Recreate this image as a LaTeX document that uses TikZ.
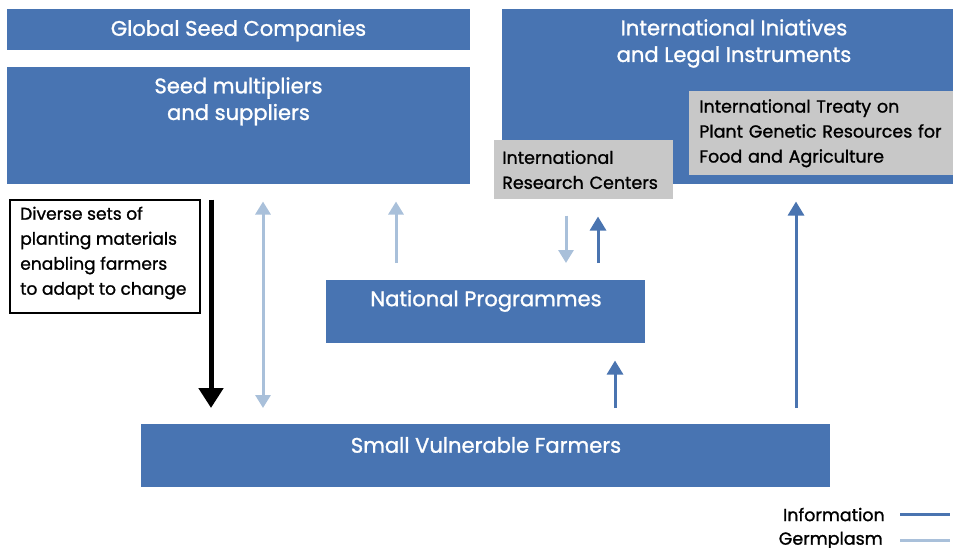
\documentclass[tikz,border=0pt]{standalone}
\usepackage{fontspec}
\setmainfont{Poppins}[FakeBold=1.2]
\usetikzlibrary{arrows.meta}
\definecolor{boxblue}{HTML}{4874B2}
\definecolor{infoblue}{HTML}{4A74B0}
\definecolor{germ}{HTML}{A9C0DA}
\definecolor{greybox}{HTML}{C8C8C8}
\def\u{0.75pt}
\tikzset{
  bluebox/.style={fill=boxblue, draw=none, text=white, inner sep=0pt, font=\fontsize{15.8}{20}\selectfont, align=center},
  greyb/.style={fill=greybox, draw=none, text=black, inner xsep=8*\u, inner ysep=0pt, font=\fontsize{13.1}{18.75}\selectfont, align=left, anchor=north west},
  notebox/.style={draw=black, line width=1.2pt, fill=white, inner sep=0pt, anchor=north west},
  notetext/.style={text=black, inner sep=0pt, font=\fontsize{12.8}{18.75}\selectfont, align=left},
  info/.style={draw=infoblue, line width=3*\u, -{Triangle[width=16*\u,length=14*\u]}},
  germarrow/.style={draw=germ, line width=3*\u, -{Triangle[width=15*\u,length=13*\u]}},
  germdouble/.style={draw=germ, line width=3*\u, {Triangle[width=15*\u,length=13*\u]}-{Triangle[width=15*\u,length=13*\u]}},
  blackarrow/.style={draw=black, line width=5*\u, -{Triangle[width=24*\u,length=20*\u]}},
  legendtxt/.style={font=\fontsize{13.1}{14}\selectfont, text=black, inner sep=0pt, anchor=east},
}
\begin{document}
\begin{tikzpicture}[x=0.75pt,y=-0.75pt]
\useasboundingbox (0,0) rectangle (953,547);
% boxes
\node[bluebox, anchor=north west, minimum width=463*\u, minimum height=41*\u] (gsc) at (7,9) {};
\node[bluebox] at (238.5,30.5) {Global Seed Companies};
\node[bluebox, anchor=north west, minimum width=463*\u, minimum height=117*\u] (smult) at (7,67) {};
\node[bluebox, anchor=north] at (238.5,77) {Seed multipliers\\and suppliers};
\node[bluebox, anchor=north west, minimum width=451*\u, minimum height=175*\u] (intl) at (502,9) {};
\node[bluebox, anchor=north] at (734,19) {International Iniatives\\and Legal Instruments};
\node[greyb, minimum width=264*\u, minimum height=84*\u, text width=246*\u, inner xsep=10*\u] (itpgr) at (689,91) {International Treaty on\\Plant Genetic Resources for\\Food and Agriculture};
\node[greyb, minimum width=179*\u, minimum height=59*\u, text width=163*\u] (irc) at (494,140) {International\\Research Centers};
\node[notebox, minimum width=190*\u, minimum height=113*\u] (note) at (9,199) {};
\node[notetext, anchor=west] (notet) at (20,253) {Diverse sets of\\planting materials\\enabling farmers\\to adapt to change};
\node[bluebox, anchor=north west, minimum width=319*\u, minimum height=63*\u] (natprog) at (326,280) {};
\node[bluebox] at (486,301) {National Programmes};
\node[bluebox, anchor=north west, minimum width=689*\u, minimum height=63*\u] (farmers) at (141,424) {};
\node[bluebox] at (486,445) {Small Vulnerable Farmers};
% arrows
\draw[blackarrow, shorten <=15*\u, shorten >=16*\u] (smult.south -| 211,0) -- (farmers.north -| 211,0);
\draw[germdouble, shorten <=17*\u, shorten >=16*\u] (smult.south -| 263,0) -- (farmers.north -| 263,0);
\draw[germarrow, shorten <=17*\u, shorten >=17*\u] (natprog.north -| 396,0) -- (smult.south -| 396,0);
\draw[germarrow, shorten <=16*\u, shorten >=17*\u] (irc.south -| 566,0) -- (natprog.north -| 566,0);
\draw[info, shorten <=17*\u, shorten >=17*\u] (natprog.north -| 598,0) -- (irc.south -| 598,0);
\draw[info, shorten <=16*\u, shorten >=17*\u] (farmers.north -| 615,0) -- (natprog.south -| 615,0);
\draw[info, shorten <=16*\u, shorten >=17*\u] (farmers.north -| 796,0) -- (intl.south -| 796,0);
% legend
\node[legendtxt] (linfo) at (885,514.5) {Information};
\node[legendtxt] (lgerm) at (883,540.5) {Germplasm};
\draw[draw=infoblue, line width=3*\u] ([xshift=15*\u]linfo.east) -- ++(50,0);
\draw[draw=germ, line width=3*\u] ([xshift=17*\u]lgerm.east) -- ++(50,0);
\end{tikzpicture}
\end{document}
